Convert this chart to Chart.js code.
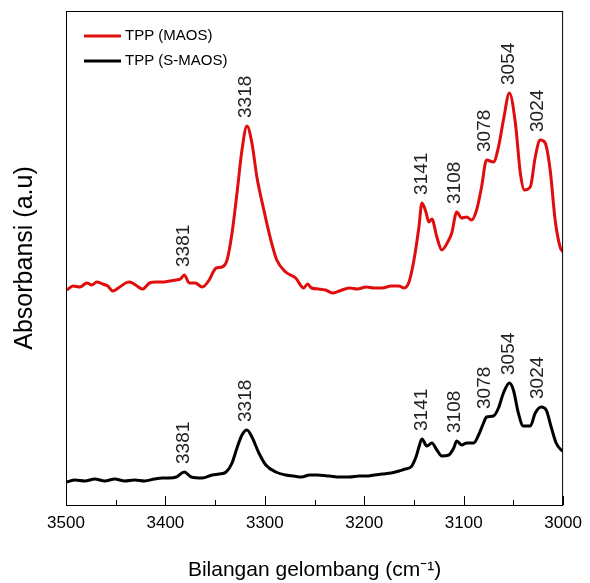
<!DOCTYPE html>
<html lang="en">
<head>
    <meta charset="UTF-8">
    <title>TPP FTIR</title>
    <script src="https://cdn.jsdelivr.net/npm/chart.js"></script>
    <style>
        html, body { margin: 0; padding: 0; background: #fff; }
        #wrap { width: 590px; height: 583px; }
    </style>
</head>
<body>
<div id="wrap"><canvas id="irChart" width="590" height="583"></canvas></div>

<script>
    // TPP (MAOS) - red, offset upwards
    const redWavenumber = [3499, 3493, 3486, 3479, 3474, 3469, 3463, 3458, 3453, 3446, 3440, 3436, 3430, 3423, 3416, 3409, 3403, 3396, 3389, 3385, 3381, 3376, 3370, 3363, 3356, 3352, 3349, 3343, 3338, 3333, 3328, 3323, 3318, 3313, 3308, 3301, 3294, 3288, 3279, 3269, 3261, 3257, 3253, 3246, 3239, 3232, 3225, 3215, 3207, 3198, 3190, 3182, 3173, 3165, 3160, 3155, 3150, 3145, 3142, 3138, 3135, 3132, 3127, 3122, 3115, 3112, 3107, 3102, 3097, 3092, 3087, 3082, 3077, 3070, 3065, 3060, 3054, 3048, 3043, 3039, 3033, 3028, 3023, 3018, 3013, 3008, 3003, 3000];
    const redAbsorbance = [215, 219, 218, 222, 220, 223, 221, 219, 214, 218, 222, 223, 220, 216, 222, 223, 223, 224, 225, 226, 230, 222, 222, 218, 225, 233, 237, 238, 245, 272, 312, 355, 379, 362, 328, 295, 265, 245, 233, 227, 217, 221, 217, 216, 215, 212, 214, 217, 216, 218, 217, 217, 219, 219, 217, 223, 245, 278, 302, 293, 283, 286, 268, 255, 265, 272, 293, 287, 288, 285, 295, 318, 345, 343, 358, 385, 412, 382, 332, 315, 318, 348, 365, 362, 335, 285, 258, 253];

    // TPP (S-MAOS) - black
    const blackWavenumber = [3499, 3491, 3481, 3471, 3461, 3451, 3441, 3431, 3421, 3411, 3403, 3396, 3389, 3381, 3374, 3363, 3353, 3346, 3339, 3333, 3328, 3323, 3318, 3313, 3306, 3299, 3289, 3279, 3271, 3263, 3255, 3248, 3235, 3225, 3215, 3205, 3198, 3190, 3182, 3173, 3165, 3159, 3153, 3148, 3145, 3142, 3137, 3132, 3127, 3122, 3115, 3110, 3107, 3102, 3097, 3090, 3085, 3080, 3077, 3070, 3065, 3060, 3054, 3050, 3045, 3040, 3033, 3028, 3022, 3017, 3012, 3007, 3002, 3000];
    const blackAbsorbance = [23, 25, 24, 26, 24, 26, 24, 25, 24, 26, 27, 27, 28, 33, 28, 27, 30, 31, 33, 42, 57, 70, 75, 68, 52, 40, 33, 30, 29, 28, 30, 30, 29, 28, 28, 29, 29, 30, 31, 32, 34, 36, 38, 48, 58, 66, 59, 62, 55, 49, 50, 57, 64, 60, 62, 62, 70, 82, 88, 89, 97, 112, 122, 115, 92, 79, 79, 92, 98, 95, 78, 62, 55, 54];

    const peakLabels = [3381, 3318, 3141, 3108, 3078, 3054, 3024];
    const xTicks = [3500, 3400, 3300, 3200, 3100, 3000];

    function toPoints(xs, ys) {
        return xs.map((x, i) => ({ x: x, y: ys[i] }));
    }

    const fontFamily = '"Liberation Sans", Arial, sans-serif';

    // frame, inward tick marks, peak labels and legend
    const decorations = {
        id: 'decorations',
        afterDatasetsDraw(chart) {
            const ctx = chart.ctx;
            const area = chart.chartArea;
            const xs = chart.scales.x;
            const ys = chart.scales.y;

            ctx.save();
            ctx.strokeStyle = '#000';
            ctx.lineWidth = 1;
            ctx.strokeRect(area.left + 0.5, area.top + 0.5, area.right - area.left - 1, area.bottom - area.top);

            // ticks pointing into the plot, minor ones halfway
            ctx.beginPath();
            for (let i = 0; i < xTicks.length; i++) {
                const px = Math.round(xs.getPixelForValue(xTicks[i])) + 0.5;
                ctx.moveTo(px, area.bottom);
                ctx.lineTo(px, area.bottom - 9);
                if (i < xTicks.length - 1) {
                    const mid = (xTicks[i] + xTicks[i + 1]) / 2;
                    const mx = Math.round(xs.getPixelForValue(mid)) + 0.5;
                    ctx.moveTo(mx, area.bottom);
                    ctx.lineTo(mx, area.bottom - 5);
                }
            }
            ctx.stroke();

            // peak labels above each curve
            ctx.font = '19px ' + fontFamily;
            ctx.fillStyle = '#222';
            ctx.textAlign = 'left';
            ctx.textBaseline = 'middle';
            chart.data.datasets.forEach(ds => {
                peakLabels.forEach(w => {
                    let top = -Infinity;
                    ds.data.forEach(p => {
                        if (Math.abs(p.x - w) <= 4 && p.y > top) top = p.y;
                    });
                    const px = xs.getPixelForValue(w) - 1;
                    const py = ys.getPixelForValue(top) - 8;
                    ctx.save();
                    ctx.translate(px, py);
                    ctx.rotate(-Math.PI / 2);
                    ctx.fillText(String(w), 0, 0);
                    ctx.restore();
                });
            });

            // legend
            ctx.font = '15px ' + fontFamily;
            ctx.fillStyle = '#000';
            ctx.textBaseline = 'middle';
            chart.data.datasets.forEach((ds, i) => {
                const ly = 36 + i * 25;
                ctx.strokeStyle = ds.borderColor;
                ctx.lineWidth = 3;
                ctx.beginPath();
                ctx.moveTo(84, ly);
                ctx.lineTo(121, ly);
                ctx.stroke();
                ctx.fillText(ds.label, 125, ly);
            });
            ctx.restore();
        }
    };

    const ctx = document.getElementById('irChart').getContext('2d');
    new Chart(ctx, {
        type: 'line',
        data: {
            datasets: [
                {
                    label: 'TPP (MAOS)',
                    data: toPoints(redWavenumber, redAbsorbance),
                    borderColor: '#e00d0d',
                    borderWidth: 3,
                    pointRadius: 0,
                    cubicInterpolationMode: 'monotone',
                    fill: false
                },
                {
                    label: 'TPP (S-MAOS)',
                    data: toPoints(blackWavenumber, blackAbsorbance),
                    borderColor: '#000000',
                    borderWidth: 3,
                    pointRadius: 0,
                    cubicInterpolationMode: 'monotone',
                    fill: false
                }
            ]
        },
        options: {
            responsive: false,
            animation: false,
            layout: { padding: { top: 11, right: 25, left: 0, bottom: 0 } },
            plugins: {
                legend: { display: false },
                tooltip: { enabled: false }
            },
            scales: {
                x: {
                    type: 'linear',
                    reverse: true,
                    min: 3000,
                    max: 3500,
                    afterFit(scale) { scale.height = 78; },
                    afterBuildTicks(scale) { scale.ticks = xTicks.map(v => ({ value: v })); },
                    grid: { display: false, drawTicks: false },
                    border: { display: false },
                    ticks: {
                        padding: 8,
                        color: '#000',
                        maxRotation: 0,
                        font: { family: fontFamily, size: 17 },
                        callback: v => String(v)
                    },
                    title: {
                        display: true,
                        text: 'Bilangan gelombang (cm⁻¹)',
                        color: '#000',
                        font: { family: fontFamily, size: 21 },
                        padding: { top: 0, bottom: 0 }
                    }
                },
                y: {
                    min: 0,
                    max: 494,
                    afterFit(scale) { scale.width = 66; },
                    grid: { display: false, drawTicks: false },
                    border: { display: false },
                    ticks: { display: false },
                    title: {
                        display: true,
                        text: 'Absorbansi (a.u)',
                        color: '#000',
                        font: { family: fontFamily, size: 25 },
                        padding: { top: 10, bottom: 0 }
                    }
                }
            }
        },
        plugins: [decorations]
    });
</script>
</body>
</html>
